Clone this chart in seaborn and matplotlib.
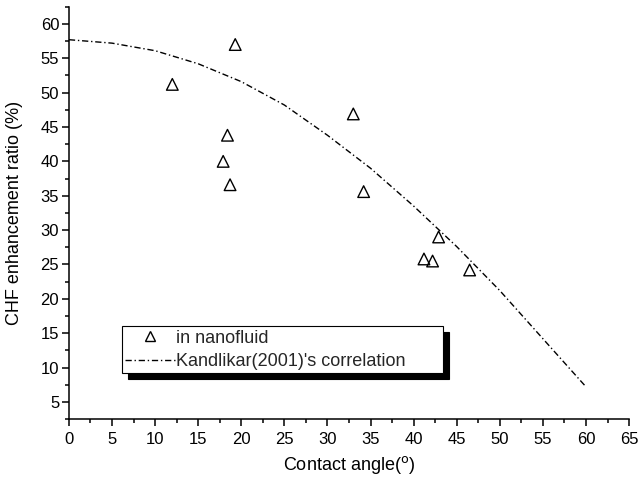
import matplotlib
matplotlib.use('Agg')
import matplotlib.pyplot as plt
import seaborn as sns
import pandas as pd
from matplotlib.ticker import MultipleLocator
from matplotlib.lines import Line2D

# Measured data (triangles)
contact_angle = [12.0, 19.3, 18.4, 17.9, 18.7, 33.0, 34.2, 42.9, 41.2, 42.2, 46.5]
chf_ratio = [51.2, 57.0, 43.8, 40.0, 36.6, 46.9, 35.6, 29.0, 25.8, 25.5, 24.2]

# Kandlikar (2001) correlation curve
corr_angle = [0, 5, 10, 15, 20, 25, 30, 35, 40, 45, 50, 55, 60]
corr_ratio = [57.7, 57.2, 56.1, 54.2, 51.6, 48.2, 43.8, 39.0, 33.5, 27.6, 21.2, 14.2, 7.2]

x_ticks = list(range(0, 66, 5))
y_ticks = list(range(5, 61, 5))

sns.set_theme(style='ticks')
plt.rcParams['font.family'] = ['Liberation Sans', 'DejaVu Sans']

fig = plt.figure(figsize=(6.38, 4.79), dpi=100)
ax = fig.add_axes([0.108, 0.125, 0.878, 0.861])

pts = pd.DataFrame({'angle': contact_angle, 'ratio': chf_ratio})
cor = pd.DataFrame({'angle': corr_angle, 'ratio': corr_ratio})

sns.lineplot(data=cor, x='angle', y='ratio', ax=ax, color='black', linewidth=1.0)
ax.lines[-1].set_linestyle((0, (4.5, 2, 1, 2)))

sns.scatterplot(data=pts, x='angle', y='ratio', ax=ax, marker='^', s=70,
                facecolors='none', edgecolor='black', linewidth=1.0)
coll = ax.collections[-1]
coll.set_facecolor('none')
coll.set_edgecolor('black')

ax.set_xlim(0, 65)
ax.set_ylim(2.5, 62.5)
ax.set_xticks(x_ticks)
ax.set_yticks(y_ticks)
ax.xaxis.set_minor_locator(MultipleLocator(2.5))
ax.yaxis.set_minor_locator(MultipleLocator(2.5))
ax.tick_params(which='major', direction='out', length=5, width=1.1, labelsize=12,
               color='black', labelcolor='black')
ax.tick_params(which='minor', direction='out', length=3, width=1.1, color='black')
ax.tick_params(axis='x', pad=4)
ax.tick_params(axis='y', pad=2)

for s in ['top', 'right']:
    ax.spines[s].set_visible(False)
for s in ['left', 'bottom']:
    ax.spines[s].set_linewidth(1.1)
    ax.spines[s].set_color('black')

ax.set_xlabel('Contact angle($^{\\mathrm{o}}$)', fontsize=13, color='black', labelpad=5)
ax.set_ylabel('CHF enhancement ratio (%)', fontsize=13, color='black', labelpad=13)

h1 = Line2D([], [], marker='^', linestyle='none', markerfacecolor='none',
            markeredgecolor='black', markersize=7, markeredgewidth=1.0)
h2 = Line2D([], [], color='black', linewidth=1.0, linestyle=(0, (4.5, 2, 1, 2)))
leg = ax.legend([h1, h2], ['in nanofluid', "Kandlikar(2001)'s correlation"],
                loc='lower left', bbox_to_anchor=(0.095, 0.112, 0.572, 0.116),
                mode='expand', fancybox=False, edgecolor='black', framealpha=1,
                shadow={'ox': 4.3, 'oy': -4.3, 'facecolor': 'black',
                        'edgecolor': 'black', 'alpha': 1},
                borderpad=0.17, borderaxespad=0, handlelength=2.8,
                handletextpad=0.0, fontsize=13, labelspacing=0.35)
leg.get_frame().set_linewidth(0.8)

fig.savefig('out.png', dpi=100)
